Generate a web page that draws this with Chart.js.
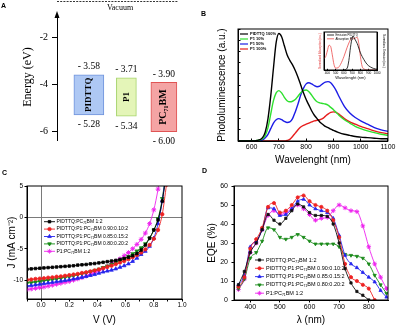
<!DOCTYPE html>
<html>
<head>
<meta charset="utf-8">
<title>Energy levels, PL, J-V and EQE</title>
<script src="https://cdn.jsdelivr.net/npm/chart.js@4.4.1/dist/chart.umd.min.js"></script>
<style>
  html, body { margin: 0; padding: 0; background: #fff; }
  body { position: relative; width: 400px; height: 328px; overflow: hidden; }
  canvas { position: absolute; }
  .tag { position: absolute; font: bold 7px "Liberation Sans", Arial, sans-serif; line-height: 7px; }
</style>
</head>
<body>
<canvas id="chartA" width="200" height="150" style="left:0;top:0"></canvas>
<canvas id="chartB" width="200" height="168" style="left:200px;top:0"></canvas>
<canvas id="chartInset" width="76" height="54" style="left:314px;top:30px"></canvas>
<canvas id="chartC" width="200" height="168" style="left:0;top:160px"></canvas>
<canvas id="chartD" width="200" height="168" style="left:200px;top:160px"></canvas>
<div class="tag" style="left:1px;top:2px">A</div>
<div class="tag" style="left:201px;top:10px">B</div>
<div class="tag" style="left:2px;top:169px">C</div>
<div class="tag" style="left:202px;top:167px">D</div>

<script>
// --- A: energy levels
const materials = ['PIDTTQ', 'P1', 'PC₇₁BM'];
const lumo = [-3.58, -3.71, -3.90];
const homo = [-5.28, -5.34, -6.00];
const energyTicks = [-2, -4, -6];

// --- B: photoluminescence
const plWavelength = [550, 600, 620, 640, 650, 660, 670, 680, 690, 700, 710, 720, 730, 740, 750, 760, 770, 780, 790, 800,
  810, 820, 830, 840, 850, 860, 870, 880, 890, 900, 910, 920, 940, 960, 980, 1000, 1025, 1050, 1075, 1100];
const plPidttq = [0, 0, 0.005, 0.03, 0.08, 0.2, 0.4, 0.65, 0.88, 0.96, 0.93, 0.85, 0.77, 0.72, 0.68, 0.63, 0.57, 0.5, 0.43, 0.37,
  0.32, 0.27, 0.23, 0.2, 0.17, 0.15, 0.13, 0.12, 0.105, 0.095, 0.085, 0.075, 0.06, 0.05, 0.04, 0.035, 0.03, 0.025, 0.02, 0.02];
const plP1_10 = [0, 0, 0.005, 0.02, 0.05, 0.12, 0.24, 0.36, 0.43, 0.45, 0.43, 0.39, 0.36, 0.35, 0.355, 0.37, 0.4, 0.43, 0.45, 0.455,
  0.44, 0.41, 0.375, 0.35, 0.34, 0.335, 0.33, 0.32, 0.3, 0.28, 0.255, 0.23, 0.19, 0.16, 0.13, 0.11, 0.09, 0.075, 0.06, 0.05];
const plP1_50 = [0, 0, 0, 0.01, 0.03, 0.06, 0.11, 0.16, 0.19, 0.2, 0.19, 0.175, 0.165, 0.17, 0.2, 0.26, 0.33, 0.41, 0.47, 0.51,
  0.52, 0.51, 0.495, 0.485, 0.49, 0.51, 0.525, 0.53, 0.52, 0.49, 0.45, 0.4, 0.31, 0.25, 0.21, 0.18, 0.15, 0.12, 0.1, 0.085];
const plP1_100 = [0, 0, 0, 0, 0, 0, 0, 0, 0, 0, 0, 0, 0.005, 0.015, 0.04, 0.07, 0.1, 0.125, 0.14, 0.15,
  0.16, 0.17, 0.18, 0.185, 0.19, 0.2, 0.22, 0.24, 0.255, 0.26, 0.255, 0.24, 0.2, 0.17, 0.15, 0.13, 0.11, 0.09, 0.075, 0.065];
const plTicks = [600, 700, 800, 900, 1000, 1100];

// inset of B
const absWavelength = [360, 380, 400, 420, 440, 460, 480, 500, 530, 560, 600, 640, 680, 700, 720, 740, 760, 780, 800, 820, 850, 900, 1000];
const absP1 = [0.3, 0.35, 0.5, 0.65, 0.62, 0.4, 0.15, 0.05, 0.06, 0.15, 0.35, 0.6, 0.8, 0.85, 0.82, 0.84, 0.86, 0.7, 0.35, 0.1, 0.02, 0, 0];
const emWavelength = [600, 640, 660, 680, 700, 710, 730, 760, 800, 840, 880, 920, 960, 1000];
const emPidttq = [0, 0.05, 0.25, 0.6, 0.85, 0.9, 0.82, 0.7, 0.45, 0.28, 0.15, 0.08, 0.04, 0.02];
const insetTicks = [400, 500, 600, 700, 800, 900, 1000];

// --- C: J-V curves
const jvVoltage = [-0.10, -0.07, -0.04, -0.01, 0.02, 0.05, 0.08, 0.11, 0.14, 0.17, 0.20, 0.23, 0.26, 0.29, 0.32, 0.35, 0.38,
  0.41, 0.44, 0.47, 0.50, 0.53, 0.56, 0.59, 0.62, 0.65, 0.68, 0.71, 0.74, 0.77, 0.80, 0.83, 0.86, 0.89];
const jvRef = [-8.25, -8.2, -8.15, -8.1, -8.05, -8.0, -7.95, -7.9, -7.85, -7.8, -7.75, -7.7, -7.6, -7.55, -7.5, -7.4, -7.35,
  -7.25, -7.15, -7.05, -6.95, -6.85, -6.7, -6.55, -6.35, -6.1, -5.75, -5.2, -4.4, -3.3, -2.0, -0.4, 2.6, 7.0];
const jvP1_10 = [-9.95, -9.9, -9.8, -9.75, -9.7, -9.6, -9.55, -9.45, -9.4, -9.3, -9.2, -9.1, -9.0, -8.85, -8.75, -8.6, -8.45,
  -8.3, -8.1, -7.9, -7.7, -7.45, -7.2, -6.95, -6.65, -6.35, -6.0, -5.6, -5.1, -4.4, -3.4, -2.0, 0.5, 5.2];
const jvP1_15 = [-10.9, -10.85, -10.75, -10.65, -10.55, -10.45, -10.35, -10.25, -10.15, -10.05, -9.95, -9.8, -9.7, -9.55, -9.4, -9.25, -9.1,
  -8.9, -8.7, -8.55, -8.4, -8.2, -7.95, -7.7, -7.4, -7.0, -6.5, -5.9, -5.4, -4.6, -3.3, -1.0, 2.6, 8.0];
const jvP1_20 = [-10.45, -10.4, -10.3, -10.2, -10.1, -10.0, -9.9, -9.8, -9.7, -9.55, -9.45, -9.3, -9.15, -9.0, -8.85, -8.65, -8.45,
  -8.25, -8.0, -7.75, -7.5, -7.2, -6.9, -6.55, -6.2, -5.8, -5.35, -4.85, -4.2, -3.3, -2.0, -0.2, 3.0, 8.0];
const jvP1 = [-11.5, -11.4, -11.3, -11.2, -11.1, -10.95, -10.8, -10.65, -10.5, -10.35, -10.2, -10.0, -9.8, -9.6, -9.35, -9.1, -8.8,
  -8.5, -8.15, -7.8, -7.4, -7.0, -6.6, -6.1, -5.6, -5.0, -4.3, -3.5, -2.5, -1.0, 1.2, 4.5, 9.0, null];
const jvXTickMarks = [-0.1, 0, 0.1, 0.2, 0.3, 0.4, 0.5, 0.6, 0.7, 0.8, 0.9, 1.0];
const jvXLabels = [0, 0.2, 0.4, 0.6, 0.8, 1.0];
const jvYTicks = [-10, -5, 0, 5];

// --- D: EQE
const eqeWavelength = [360, 380, 400, 420, 440, 460, 480, 500, 520, 540, 560, 580, 600, 620, 640, 660, 680, 700, 720, 740, 760, 780, 800, 820, 840, 860];
const eqeRef = [8, 15, 25, 30, 37, 45, 42, 40, 43, 47, 50.5, 49, 46, 44.5, 44.5, 44, 40, 30, 16.5, 9, 4.5, 2.5, 0, null, null, null];
const eqeP1_10 = [7, 12, 27, 32, 38, 49, 51, 46, 47, 50, 54, 55, 52, 50, 49, 47, 42, 33, 19, 12, 10, 8, 6, 0, null, null];
const eqeP1_15 = [8, 13, 28, 31, 37, 48.5, 48, 44.5, 45, 48, 52, 53, 50, 48, 47, 46, 43, 34, 23.5, 19, 17, 14.5, 12, 9.5, 5, 1.5];
const eqeP1_20 = [6, 11, 22, 25, 31, 38, 37, 33, 32, 33, 34.5, 33, 31, 29.5, 29.5, 29.5, 29.5, 28, 24, 23.5, 23, 22, 19, 13, 8, 3.5];
const eqeP1 = [5.5, 11, 25, 30, 37, 44.5, 47, 45, 46, 48, 50, 48, 45, 42, 43, 43.5, 47, 50, 48.5, 47, 46.5, 39, 28, 19, 12, 6];
const eqeXTicks = [400, 500, 600, 700, 800];
const eqeYTicks = [0, 10, 20, 30, 40, 50, 60];

const SANS = '"Liberation Sans", Arial, sans-serif';
const SERIF = '"Liberation Serif", "Times New Roman", serif';

Chart.defaults.font.family = SANS;
Chart.defaults.color = '#000';
Chart.defaults.animation = false;
Chart.defaults.plugins.legend.display = false;
Chart.defaults.plugins.tooltip.enabled = false;

const pts = (xs, ys) => xs.map((x, i) => ({ x: x, y: ys[i] }));
const fixW = w => s => { s.width = w; };
const fixH = h => s => { s.height = h; };
const onlyTicks = vals => s => { s.ticks = vals.map(v => ({ value: v })); };
const plain = v => String(v);

// box around the plot area
const framePlugin = {
  id: 'frame',
  afterDatasetsDraw(chart) {
    const { ctx, chartArea: a } = chart;
    ctx.save();
    ctx.strokeStyle = '#000';
    ctx.lineWidth = 1;
    ctx.strokeRect(a.left, a.top, a.right - a.left, a.bottom - a.top);
    ctx.restore();
  }
};

// small legend drawn inside the plot
const keyPlugin = {
  id: 'key',
  afterDatasetsDraw(chart, args, o) {
    const { ctx } = chart;
    ctx.save();
    ctx.font = o.fontCss;
    ctx.textBaseline = 'middle';
    ctx.textAlign = 'left';
    chart.data.datasets.forEach((ds, i) => {
      const y = o.y + i * o.rowH;
      ctx.strokeStyle = ds.borderColor;
      ctx.lineWidth = o.lineWidth;
      ctx.beginPath();
      ctx.moveTo(o.x, y);
      ctx.lineTo(o.x + o.len, y);
      ctx.stroke();
      if (o.markers) {
        ctx.fillStyle = ds.pointBackgroundColor;
        ctx.lineWidth = 0.8;
        Chart.helpers.drawPoint(ctx, {
          pointStyle: ds.pointStyle, rotation: ds.pointRotation || 0,
          radius: ds.pointRadius, borderWidth: 0.8
        }, o.x + o.len / 2, y);
      }
      ctx.fillStyle = '#000';
      ctx.fillText(ds.label, o.x + o.len + o.gap, y);
    });
    ctx.restore();
  }
};

// arrow, vacuum level and values of panel A
const levelPlugin = {
  id: 'levels',
  afterDatasetsDraw(chart) {
    const { ctx, chartArea: a } = chart;
    ctx.save();
    ctx.fillStyle = '#000';
    ctx.strokeStyle = '#000';
    ctx.beginPath();
    ctx.moveTo(a.left, a.top - 3);
    ctx.lineTo(a.left - 2.5, a.top + 4);
    ctx.lineTo(a.left + 2.5, a.top + 4);
    ctx.closePath();
    ctx.fill();

    ctx.lineWidth = 0.8;
    ctx.setLineDash([2, 1.2]);
    ctx.beginPath();
    ctx.moveTo(a.left, 1.5);
    ctx.lineTo(a.right - 7, 1.5);
    ctx.stroke();
    ctx.setLineDash([]);

    ctx.textAlign = 'center';
    ctx.textBaseline = 'middle';
    ctx.font = '8px ' + SERIF;
    ctx.fillText('Vacuum', 120, 7.5);

    chart.data.datasets.forEach((ds, i) => {
      const bar = chart.getDatasetMeta(i).data[0];
      const top = Math.min(bar.y, bar.base);
      const bottom = Math.max(bar.y, bar.base);
      ctx.font = '9.5px ' + SERIF;
      ctx.fillText('- ' + Math.abs(lumo[i]).toFixed(2), bar.x, top - 8);
      ctx.fillText('- ' + Math.abs(homo[i]).toFixed(2), bar.x, bottom + 10);
      ctx.save();
      ctx.translate(bar.x, (top + bottom) / 2);
      ctx.rotate(-Math.PI / 2);
      ctx.font = 'bold ' + (i === 2 ? 10 : 9) + 'px ' + SERIF;
      ctx.fillText(materials[i], 0, 0);
      ctx.restore();
    });
    ctx.restore();
  }
};

const boxFill = ['#aec8f4', '#e4f5b8', '#f4a4a4'];
const boxEdge = ['#6f93dc', '#a6d46c', '#e05454'];
const boxWidth = [30, 20, 26];

new Chart(document.getElementById('chartA'), {
  type: 'bar',
  data: {
    datasets: materials.map((m, i) => ({
      label: m,
      data: [{ x: i, y: [homo[i], lumo[i]] }],
      backgroundColor: boxFill[i],
      borderColor: boxEdge[i],
      borderWidth: 1,
      borderSkipped: false,
      barThickness: boxWidth[i],
      grouped: false
    }))
  },
  options: {
    responsive: false,
    layout: { padding: { top: 14, right: 15.5, bottom: 4 } },
    scales: {
      x: { type: 'linear', min: -0.85, max: 2.55, offset: false, display: false },
      y: {
        min: -6.35, max: -1.0,
        afterBuildTicks: onlyTicks(energyTicks),
        afterFit: fixW(57),
        border: { color: '#000', width: 1 },
        grid: { drawOnChartArea: false, tickLength: 5, tickColor: '#000' },
        ticks: { font: { family: SERIF, size: 10 }, padding: 4 },
        title: { display: true, text: 'Energy (eV)', font: { family: SERIF, size: 12 }, padding: { top: 21, bottom: 0 } }
      }
    }
  },
  plugins: [levelPlugin]
});

new Chart(document.getElementById('chartB'), {
  type: 'line',
  data: {
    datasets: [
      { label: 'PIDTTQ 100%', data: pts(plWavelength, plPidttq), borderColor: '#000000' },
      { label: 'P1 10%', data: pts(plWavelength, plP1_10), borderColor: '#2ee02e' },
      { label: 'P1 50%', data: pts(plWavelength, plP1_50), borderColor: '#1c1ce6' },
      { label: 'P1 100%', data: pts(plWavelength, plP1_100), borderColor: '#e61c1c' }
    ]
  },
  options: {
    responsive: false,
    layout: { padding: { top: 29, right: 11 } },
    elements: { point: { radius: 0 }, line: { borderWidth: 1.4, cubicInterpolationMode: 'monotone' } },
    scales: {
      x: {
        type: 'linear', min: 550, max: 1100,
        afterBuildTicks: onlyTicks(plTicks),
        afterFit: fixH(27),
        border: { color: '#000' },
        grid: { drawOnChartArea: false, tickLength: -2.5, tickColor: '#000' },
        ticks: { font: { size: 7 }, padding: 4.5, autoSkip: false, maxRotation: 0, callback: plain },
        title: { display: true, text: 'Wavelenght (nm)', font: { size: 10 }, padding: { top: 0, bottom: 2 } }
      },
      y: {
        min: 0, max: 1,
        afterFit: fixW(38),
        border: { color: '#000' },
        grid: { drawOnChartArea: false, tickLength: -2.5, tickColor: '#000' },
        ticks: { display: false, stepSize: 0.1 },
        title: { display: true, text: 'Photoluminescence (a.u.)', font: { size: 10 }, padding: { top: 16, bottom: 0 } }
      }
    },
    plugins: {
      key: { x: 40, y: 34, rowH: 5, len: 8, gap: 2, lineWidth: 1.2, markers: false, fontCss: 'bold 4px ' + SANS }
    }
  },
  plugins: [framePlugin, keyPlugin]
});

new Chart(document.getElementById('chartInset'), {
  type: 'line',
  data: {
    datasets: [
      { label: 'Emission PIDTTQ', data: pts(emWavelength, emPidttq), borderColor: '#000000', yAxisID: 'yE' },
      { label: 'Absorption P1', data: pts(absWavelength, absP1), borderColor: '#ec4a4a', yAxisID: 'yA' }
    ]
  },
  options: {
    responsive: false,
    layout: { padding: { top: 2 } },
    elements: { point: { radius: 0 }, line: { borderWidth: 0.8, cubicInterpolationMode: 'monotone' } },
    scales: {
      x: {
        type: 'linear', min: 360, max: 1000,
        afterBuildTicks: onlyTicks(insetTicks),
        afterFit: fixH(14),
        border: { color: '#000' },
        grid: { drawOnChartArea: false, tickLength: -1.2, tickColor: '#000' },
        ticks: { font: { size: 3.2 }, padding: 2, autoSkip: false, maxRotation: 0, callback: plain },
        title: { display: true, text: 'Wavelenght (nm)', font: { size: 4 }, padding: { top: 0, bottom: 3.5 } }
      },
      yA: {
        position: 'left', min: 0, max: 1,
        afterFit: fixW(10),
        border: { color: '#000' },
        grid: { display: false },
        ticks: { display: false },
        title: { display: true, text: 'Normalized Absorption (a.u.)', color: '#e03030', font: { size: 2.8 }, padding: { top: 4.5, bottom: 0 } }
      },
      yE: {
        position: 'right', min: 0, max: 1,
        afterFit: fixW(13),
        border: { color: '#000' },
        grid: { display: false },
        ticks: { display: false },
        title: { display: true, text: 'Normalized Emission (a.u.)', font: { size: 2.8 }, padding: { top: 5, bottom: 0 } }
      }
    },
    plugins: {
      key: { x: 13, y: 5, rowH: 3.8, len: 7, gap: 1.5, lineWidth: 0.8, markers: false, fontCss: '2.8px ' + SANS }
    }
  },
  plugins: [framePlugin, keyPlugin]
});

const zeroLine = c => (c.tick && c.tick.value === 0 ? '#7a7a7a' : 'rgba(0,0,0,0)');

new Chart(document.getElementById('chartC'), {
  type: 'line',
  data: {
    datasets: [
      { label: 'PIDTTQ:PC₇₁BM 1:2', data: pts(jvVoltage, jvRef), borderColor: '#000000',
        pointStyle: 'rect', pointRadius: 1.8, pointBackgroundColor: '#000000' },
      { label: 'PIDTTQ:P1:PC₇₁BM 0.90:0.10:2', data: pts(jvVoltage, jvP1_10), borderColor: '#ee2222',
        pointStyle: 'circle', pointRadius: 1.7, pointBackgroundColor: '#ee2222' },
      { label: 'PIDTTQ:P1:PC₇₁BM 0.85:0.15:2', data: pts(jvVoltage, jvP1_15), borderColor: '#2424ee',
        pointStyle: 'triangle', pointRadius: 2.1, pointBackgroundColor: '#2424ee' },
      { label: 'PIDTTQ:P1:PC₇₁BM 0.80:0.20:2', data: pts(jvVoltage, jvP1_20), borderColor: '#138a13',
        pointStyle: 'triangle', pointRotation: 180, pointRadius: 2.1, pointBackgroundColor: '#138a13' },
      { label: 'P1:PC₇₁BM 1:2', data: pts(jvVoltage, jvP1), borderColor: '#ee22ee',
        pointStyle: 'star', pointRadius: 2.4, pointBorderWidth: 1, pointBackgroundColor: '#ee22ee' }
    ]
  },
  options: {
    responsive: false,
    layout: { padding: { top: 26, right: 18 } },
    elements: { point: { borderWidth: 0.8 }, line: { borderWidth: 0.9, cubicInterpolationMode: 'monotone' } },
    scales: {
      x: {
        type: 'linear', min: -0.1, max: 1.0,
        afterBuildTicks: onlyTicks(jvXTickMarks),
        afterFit: fixH(29),
        border: { color: '#000' },
        grid: { color: zeroLine, tickLength: 2.5, tickColor: '#000' },
        ticks: { font: { size: 6.5 }, padding: 0, autoSkip: false, maxRotation: 0,
          callback: v => (jvXLabels.includes(v) ? v.toFixed(1) : '') },
        title: { display: true, text: 'V (V)', font: { size: 10 }, padding: { top: 0, bottom: 2 } }
      },
      y: {
        min: -13, max: 5,
        afterBuildTicks: onlyTicks(jvYTicks),
        afterFit: fixW(27),
        border: { color: '#000' },
        grid: { color: zeroLine, tickLength: 2.5, tickColor: '#000' },
        ticks: { font: { size: 6.5 }, padding: 1.5 },
        title: { display: true, text: 'J (mA cm⁻²)', font: { size: 10 }, padding: { top: 6, bottom: 0 } }
      }
    },
    plugins: {
      key: { x: 44, y: 61.7, rowH: 7.4, len: 11, gap: 1.5, lineWidth: 0.9, markers: true, fontCss: '5px ' + SANS }
    }
  },
  plugins: [framePlugin, keyPlugin]
});

new Chart(document.getElementById('chartD'), {
  type: 'line',
  data: {
    datasets: [
      { label: 'PIDTTQ:PC₇₁BM 1:2', data: pts(eqeWavelength, eqeRef), borderColor: '#111111',
        pointStyle: 'rect', pointRadius: 1.6, pointBackgroundColor: '#111111' },
      { label: 'PIDTTQ:P1:PC₇₁BM 0.90:0.10:2', data: pts(eqeWavelength, eqeP1_10), borderColor: '#ee2222',
        pointStyle: 'circle', pointRadius: 1.6, pointBackgroundColor: '#ee2222' },
      { label: 'PIDTTQ:P1:PC₇₁BM 0.85:0.15:2', data: pts(eqeWavelength, eqeP1_15), borderColor: '#2424ee',
        pointStyle: 'triangle', pointRadius: 1.9, pointBackgroundColor: '#2424ee' },
      { label: 'PIDTTQ:P1:PC₇₁BM 0.80:0.20:2', data: pts(eqeWavelength, eqeP1_20), borderColor: '#1a8a1a',
        pointStyle: 'triangle', pointRotation: 180, pointRadius: 1.9, pointBackgroundColor: '#1a8a1a' },
      { label: 'P1:PC₇₁BM 1:2', data: pts(eqeWavelength, eqeP1), borderColor: '#ee22ee',
        pointStyle: 'star', pointRadius: 2.3, pointBorderWidth: 1, pointBackgroundColor: '#ee22ee' }
    ]
  },
  options: {
    responsive: false,
    layout: { padding: { top: 26, right: 12 } },
    elements: { point: { borderWidth: 0.8 }, line: { borderWidth: 0.9, cubicInterpolationMode: 'monotone' } },
    scales: {
      x: {
        type: 'linear', min: 345, max: 865,
        afterBuildTicks: onlyTicks(eqeXTicks),
        afterFit: fixH(28),
        border: { color: '#000' },
        grid: { drawOnChartArea: false, tickLength: 2.5, tickColor: '#000' },
        ticks: { font: { size: 7 }, padding: 0, autoSkip: false, maxRotation: 0, callback: plain },
        title: { display: true, text: 'λ (nm)', font: { size: 10 }, padding: { top: 0, bottom: 1.3 } }
      },
      y: {
        min: 0, max: 60,
        afterBuildTicks: onlyTicks(eqeYTicks),
        afterFit: fixW(34),
        border: { color: '#000' },
        grid: { drawOnChartArea: false, tickLength: 2.5, tickColor: '#000' },
        ticks: { font: { size: 7 }, padding: 3.5 },
        title: { display: true, text: 'EQE (%)', font: { size: 10 }, padding: { top: 6, bottom: 0 } }
      }
    },
    plugins: {
      key: { x: 55, y: 100, rowH: 8.3, len: 9, gap: 2, lineWidth: 0.9, markers: true, fontCss: '5.5px ' + SANS }
    }
  },
  plugins: [framePlugin, keyPlugin]
});
</script>
</body>
</html>
